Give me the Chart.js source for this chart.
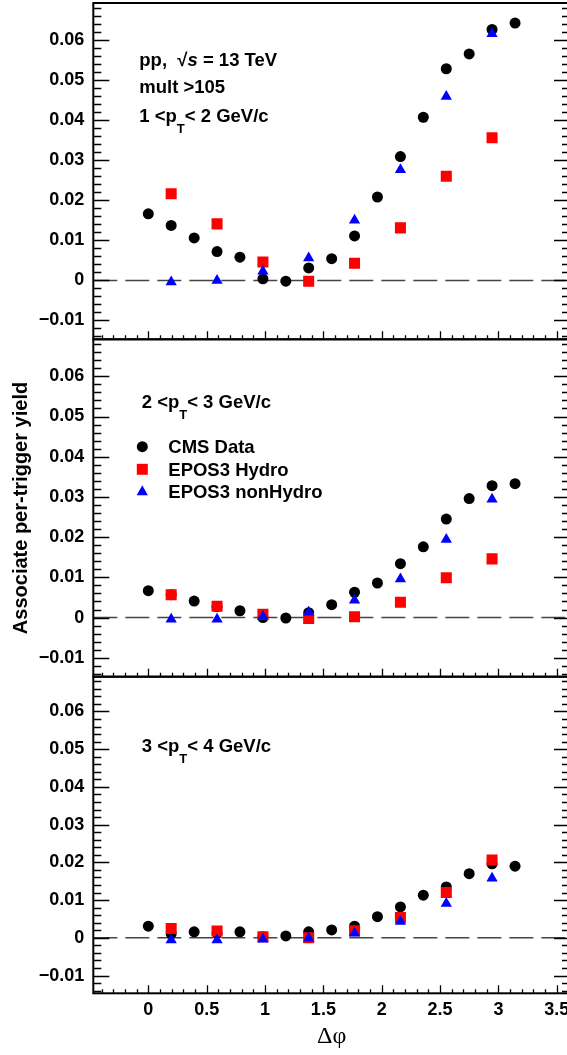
<!DOCTYPE html>
<html><head><meta charset="utf-8">
<script src="https://cdn.jsdelivr.net/npm/chart.js@4/dist/chart.umd.min.js"></script>
<style>
html,body{margin:0;padding:0;background:#fff;overflow:hidden;width:567px;height:1055px;}
canvas{position:absolute;left:0;top:0;}
</style></head><body>
<canvas id="c1" width="575" height="1055"></canvas>
<canvas id="c2" width="575" height="1055"></canvas>
<canvas id="c3" width="575" height="1055"></canvas>
<script>
// ---------- data ----------
const dphiData  = [0, 0.196, 0.393, 0.589, 0.785, 0.982, 1.178, 1.374, 1.571, 1.767, 1.963, 2.160, 2.356, 2.553, 2.749, 2.945, 3.142];
const dphiModel = [0.196, 0.589, 0.982, 1.374, 1.767, 2.160, 2.553, 2.945];

const cmsPt12      = [0.0166, 0.0137, 0.0106, 0.0072, 0.0058, 0.0004, -0.0002, 0.0031, 0.0054, 0.0111, 0.0208, 0.0309, 0.0407, 0.0528, 0.0565, 0.0626, 0.0642];
const hydroPt12    = [0.0216, 0.0141, 0.0046, -0.0002, 0.0043, 0.0131, 0.0260, 0.0356];
const nonHydroPt12 = [-0.0004, 0.0000, 0.0023, 0.0056, 0.0150, 0.0276, 0.0459, 0.0615];

const cmsPt23      = [0.0067, 0.0057, 0.0041, 0.0027, 0.0017, 0.0000, -0.0001, 0.0012, 0.0032, 0.0063, 0.0086, 0.0134, 0.0176, 0.0245, 0.0296, 0.0328, 0.0333];
const hydroPt23    = [0.0057, 0.0028, 0.0008, -0.0002, 0.0002, 0.0038, 0.0099, 0.0146];
const nonHydroPt23 = [-0.0004, -0.0004, 0.0003, 0.0013, 0.0043, 0.0096, 0.0194, 0.0294];

const cmsPt34      = [0.0031, 0.0011, 0.0016, 0.0012, 0.0016, 0.0003, 0.0005, 0.0016, 0.0021, 0.0031, 0.0056, 0.0082, 0.0113, 0.0135, 0.0170, 0.0196, 0.0190];
const hydroPt34    = [0.0025, 0.0018, 0.0003, 0.0000, 0.0019, 0.0054, 0.0120, 0.0206];
const nonHydroPt34 = [-0.0006, -0.0006, -0.0004, -0.0001, 0.0012, 0.0043, 0.0091, 0.0158];

const seriesLabels = ['CMS Data', 'EPOS3 Hydro', 'EPOS3 nonHydro'];
const xTickValues = [0, 0.5, 1, 1.5, 2, 2.5, 3, 3.5];
const xTickLabels = ['0', '0.5', '1', '1.5', '2', '2.5', '3', '3.5'];
const yTickValues = [-0.01, 0, 0.01, 0.02, 0.03, 0.04, 0.05, 0.06];
const yTickLabels = ['\u22120.01', '0', '0.01', '0.02', '0.03', '0.04', '0.05', '0.06'];
const xTitle = '\u0394\u03c6';
const yTitle = 'Associate per-trigger yield';

// ---------- style ----------
const FONT = '"Liberation Sans", Arial, Helvetica, sans-serif';
const TXT = 18.5;
const X_MIN = -0.4712, X_MAX = 3.6128;
const Y_MIN = -0.0147, Y_MAX = 0.0692;
const CW = 575, CH = 1055;
const panels = [
  {top: 3, bottom: 339.3},
  {top: 339.3, bottom: 676.7},
  {top: 676.7, bottom: 993.3}
];

function pts(xs, ys) { return xs.map((x, i) => ({x: x, y: ys[i]})); }

function drawRich(ctx, x, y, parts) {
  let cx = x;
  for (const p of parts) {
    if (p.sub) {
      ctx.font = 'bold 13px ' + FONT;
      ctx.fillText(p.t, cx, y + 11);
    } else if (p.it) {
      ctx.font = 'italic bold ' + TXT + 'px ' + FONT;
      ctx.fillText(p.t, cx, y);
    } else {
      ctx.font = 'bold ' + TXT + 'px ' + FONT;
      ctx.fillText(p.t, cx, y);
    }
    cx += ctx.measureText(p.t).width;
  }
}

const rootPlugin = {
  id: 'rootStyle',
  beforeDatasetsDraw(chart) {
    const {ctx, chartArea: a, scales: {y}} = chart;
    const y0 = y.getPixelForValue(0);
    ctx.save();
    ctx.beginPath(); ctx.rect(a.left, a.top, a.right - a.left, a.bottom - a.top); ctx.clip();
    ctx.strokeStyle = '#444'; ctx.lineWidth = 1.5; ctx.setLineDash([24, 8]);
    ctx.beginPath(); ctx.moveTo(a.left, y0); ctx.lineTo(a.right, y0); ctx.stroke();
    ctx.restore();
  },
  afterDraw(chart) {
    const {ctx, chartArea: a, scales: {x, y}} = chart;
    const o = chart.options.plugins.rootStyle || {};
    ctx.save();
    ctx.strokeStyle = '#000'; ctx.lineWidth = 1.3;
    ctx.beginPath();
    for (let i = -7; i <= 34; i++) {
      const v = i * 0.002;
      if (v < Y_MIN || v > Y_MAX) continue;
      const py = Math.round(y.getPixelForValue(v)) + 0.5;
      const len = (i % 5 === 0) ? 16 : 8;
      ctx.moveTo(a.left, py); ctx.lineTo(a.left + len, py);
      ctx.moveTo(a.right, py); ctx.lineTo(a.right - len, py);
    }
    for (let i = -4; i <= 36; i++) {
      const v = i * 0.1;
      if (v < X_MIN || v > X_MAX) continue;
      const px = Math.round(x.getPixelForValue(v)) + 0.5;
      const len = (i % 5 === 0) ? 8 : 4;
      ctx.moveTo(px, a.bottom); ctx.lineTo(px, a.bottom - len);
    }
    ctx.stroke();
    ctx.lineWidth = 2;
    ctx.strokeRect(a.left, a.top, a.right - a.left, a.bottom - a.top);
    ctx.fillStyle = '#000';
    ctx.textBaseline = 'alphabetic';
    ctx.textAlign = 'left';
    (o.texts || []).forEach(t => drawRich(ctx, t.x, t.y, t.parts));
    if (o.legend) {
      const ds = chart.data.datasets;
      const rows = [453.3, 475.9, 498.3];
      ds.forEach((d, i) => {
        const cy = rows[i] - 6.6, cx = 142.3;
        ctx.fillStyle = d.backgroundColor;
        ctx.beginPath();
        if (d.pointStyle === 'circle') { ctx.arc(cx, cy, 5.5, 0, Math.PI * 2); }
        else if (d.pointStyle === 'rect') { ctx.rect(cx - 5.5, cy - 5.5, 11, 11); }
        else { ctx.moveTo(cx, cy - 6.5); ctx.lineTo(cx + 5.6, cy + 3.5); ctx.lineTo(cx - 5.6, cy + 3.5); ctx.closePath(); }
        ctx.fill();
        ctx.fillStyle = '#000';
        ctx.font = 'bold ' + TXT + 'px ' + FONT;
        ctx.fillText(d.label, 168.3, rows[i]);
      });
    }
    ctx.restore();
  }
};

function makeChart(id, idx, cms, hydro, nonHydro, texts, legend) {
  const p = panels[idx];
  const last = idx === 2;
  return new Chart(document.getElementById(id), {
    type: 'scatter',
    data: {
      datasets: [
        {label: seriesLabels[0], data: pts(dphiData, cms), pointStyle: 'circle', pointRadius: 5.5, pointHoverRadius: 5.5,
         backgroundColor: '#000000', borderWidth: 0, order: 3},
        {label: seriesLabels[1], data: pts(dphiModel, hydro), pointStyle: 'rect', pointRadius: 7.8, pointHoverRadius: 7.8,
         backgroundColor: '#ff0000', borderWidth: 0, order: 2},
        {label: seriesLabels[2], data: pts(dphiModel, nonHydro), pointStyle: 'triangle', pointRadius: 6.5, pointHoverRadius: 6.5,
         backgroundColor: '#0000ff', borderWidth: 0, order: 1}
      ]
    },
    options: {
      responsive: false, maintainAspectRatio: false, animation: false,
      devicePixelRatio: 1,
      layout: {autoPadding: false, padding: {left: 0, right: CW - 570, top: p.top, bottom: last ? 0 : CH - p.bottom}},
      plugins: {
        legend: {display: false}, tooltip: {enabled: false},
        rootStyle: {texts: texts, legend: legend}
      },
      scales: {
        x: {
          type: 'linear', min: X_MIN, max: X_MAX,
          grid: {display: false, drawTicks: false}, border: {display: false},
          afterBuildTicks: s => { s.ticks = xTickValues.map(v => ({value: v})); },
          afterFit: s => { s.height = last ? CH - p.bottom : 0; s.paddingLeft = 0; s.paddingRight = 0; },
          ticks: {display: last, padding: 6, color: '#000', maxRotation: 0, autoSkip: false,
                  font: {family: FONT, size: 18, weight: 'bold'},
                  callback: (v, i) => xTickLabels[i]},
          title: {display: last, text: xTitle, color: '#000',
                  font: {family: '"Liberation Serif", "Times New Roman", serif', size: 24, weight: 'normal'},
                  padding: {top: 0, bottom: 4}}
        },
        y: {
          type: 'linear', min: Y_MIN, max: Y_MAX,
          grid: {display: false, drawTicks: false}, border: {display: false},
          afterBuildTicks: s => { s.ticks = yTickValues.map(v => ({value: v})); },
          afterFit: s => { s.width = 93.3; s.paddingTop = 0; s.paddingBottom = 0; },
          ticks: {padding: 9, color: '#000', autoSkip: false,
                  font: {family: FONT, size: 18, weight: 'bold'},
                  callback: (v, i) => yTickLabels[i]},
          title: {display: idx === 1, text: yTitle, color: '#000',
                  font: {family: FONT, size: 20, weight: 'bold'},
                  padding: {top: 9, bottom: 0}}
        }
      }
    },
    plugins: [rootPlugin]
  });
}

makeChart('c1', 0, cmsPt12, hydroPt12, nonHydroPt12, [
  {x: 139.3, y: 65.5, parts: [{t: 'pp,  '}, {t: '\u221a'}, {t: 's', it: true}, {t: ' = 13 TeV'}]},
  {x: 139.3, y: 92.6, parts: [{t: 'mult >105'}]},
  {x: 139.3, y: 121.6, parts: [{t: '1 <p'}, {t: 'T', sub: true}, {t: '< 2 GeV/c'}]}
], false);
makeChart('c2', 1, cmsPt23, hydroPt23, nonHydroPt23, [
  {x: 141.7, y: 408.3, parts: [{t: '2 <p'}, {t: 'T', sub: true}, {t: '< 3 GeV/c'}]}
], true);
makeChart('c3', 2, cmsPt34, hydroPt34, nonHydroPt34, [
  {x: 141.8, y: 751.7, parts: [{t: '3 <p'}, {t: 'T', sub: true}, {t: '< 4 GeV/c'}]}
], false);
</script>
</body></html>
